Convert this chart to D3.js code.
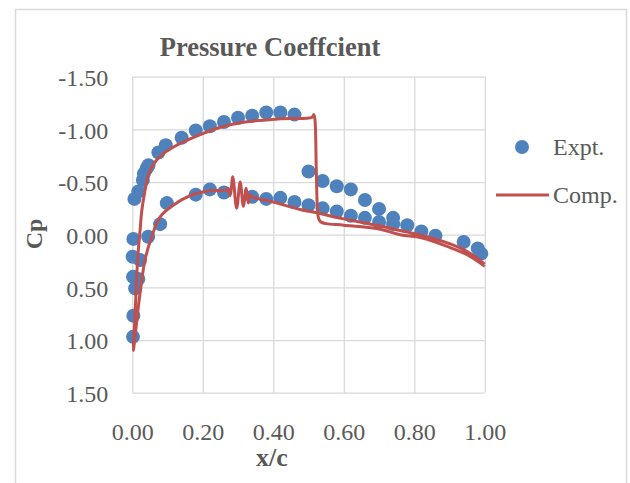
<!DOCTYPE html>
<html>
<head>
<meta charset="utf-8">
<script src="https://cdn.jsdelivr.net/npm/d3@7"></script>
<style>
  body { margin: 0; background: #fff; }
</style>
</head>
<body>
<div id="viz"></div>
<script>
var width = 630;
var height = 483;

// tick values
var xTicks = [0, 0.2, 0.4, 0.6, 0.8, 1.0];
var yTicks = [-1.5, -1.0, -0.5, 0, 0.5, 1.0, 1.5];

// experimental points (x/c, Cp)
var exptX = [0.002, 0.003, 0.008, 0.017, 0.002, 0.022, 0.001, 0.003, 0.045, 0.079, 0.098,
  0.18, 0.22, 0.26, 0.34, 0.38, 0.42, 0.46, 0.50, 0.54, 0.58, 0.62, 0.66, 0.70, 0.74,
  0.006, 0.017, 0.030, 0.033, 0.041, 0.046, 0.074, 0.095, 0.14, 0.18, 0.22, 0.26, 0.30,
  0.34, 0.38, 0.42, 0.46, 0.50, 0.54, 0.58, 0.62, 0.66, 0.70, 0.74, 0.78, 0.82, 0.86,
  0.94, 0.98, 0.99];
var exptCp = [0.97, 0.77, 0.51, 0.42, 0.40, 0.24, 0.21, 0.04, 0.02, -0.10, -0.30,
  -0.38, -0.43, -0.40, -0.36, -0.34, -0.35, -0.31, -0.28, -0.25, -0.22, -0.18, -0.16, -0.12, -0.10,
  -0.34, -0.41, -0.52, -0.58, -0.63, -0.66, -0.78, -0.85, -0.92, -0.99, -1.03, -1.07, -1.11,
  -1.13, -1.16, -1.16, -1.14, -0.60, -0.51, -0.46, -0.43, -0.33, -0.245, -0.16, -0.09, -0.03, 0.01,
  0.07, 0.13, 0.18];

// computed, upper surface from leading edge to trailing edge
var compUpperX = [0.003, 0.008, 0.012, 0.017, 0.022, 0.027, 0.036, 0.045, 0.06, 0.088, 0.126,
  0.164, 0.20, 0.25, 0.32, 0.42, 0.51, 0.515, 0.518, 0.522, 0.526, 0.529, 0.535, 0.55, 0.60,
  0.70, 0.76, 0.82, 0.90, 0.95, 1.00];
var compUpperCp = [1.10, 0.75, 0.43, 0.15, -0.04, -0.23, -0.42, -0.56, -0.67, -0.77, -0.85,
  -0.91, -0.96, -1.02, -1.07, -1.10, -1.115, -1.14, -1.10, -0.60, -0.20, -0.15, -0.12, -0.105, -0.09,
  -0.055, 0.0, 0.03, 0.12, 0.19, 0.30];

// computed, lower surface from leading edge to trailing edge
var compLowerX = [0.003, 0.01, 0.017, 0.027, 0.036, 0.055, 0.079, 0.116, 0.164, 0.193, 0.23,
  0.265, 0.272, 0.278, 0.285, 0.296, 0.306, 0.315, 0.323, 0.329, 0.334, 0.339, 0.40,
  0.476, 0.52, 0.60, 0.70, 0.76, 0.82, 0.90, 0.95, 1.00];
var compLowerCp = [1.10, 0.90, 0.69, 0.43, 0.24, 0.02, -0.17, -0.28, -0.37, -0.40, -0.42,
  -0.42, -0.44, -0.37, -0.55, -0.25, -0.50, -0.27, -0.44, -0.30, -0.38, -0.36, -0.31,
  -0.24, -0.21, -0.15, -0.085, -0.04, 0.005, 0.085, 0.16, 0.28];

var exptColor = "#4f81bd";
var compColor = "#c0504d";
var gridColor = "#d9d9d9";
var textColor = "#595959";

var viz = d3.select("#viz")
  .append("svg")
  .attr("width", width)
  .attr("height", height)
  .style("font-family", "'Liberation Serif', 'Times New Roman', serif");

// chart border
viz.append("rect")
  .attr("x", 15.5)
  .attr("y", 9.5)
  .attr("width", 611)
  .attr("height", 500)
  .attr("fill", "none")
  .attr("stroke", gridColor)
  .attr("stroke-width", 1.5);

var x = d3.scaleLinear()
  .domain([0, 1])
  .range([132.3, 484.8]);

var y = d3.scaleLinear()
  .domain([-1.5, 1.5])
  .range([76.7, 392.7]);

var fmt = function(d) { return d.toFixed(2); };

//y axis with gridlines
var yAxis = viz.append("g")
  .attr("transform", "translate(" + x(0) + ",0)")
  .call(d3.axisLeft(y)
    .tickValues(yTicks)
    .tickSize(-(x(1) - x(0)))
    .tickPadding(24)
    .tickFormat(fmt));
yAxis.select(".domain").remove();
yAxis.selectAll("line").attr("stroke", gridColor).attr("stroke-width", 1.3);
yAxis.selectAll("text")
  .attr("dy", "0.37em")
  .style("fill", textColor)
  .style("font-size", "24px")
  .style("font-family", "'Liberation Serif', serif");

//x axis with gridlines
var xAxis = viz.append("g")
  .attr("transform", "translate(0," + y(1.5) + ")")
  .call(d3.axisBottom(x)
    .tickValues(xTicks)
    .tickSize(-(y(1.5) - y(-1.5)))
    .tickPadding(30)
    .tickFormat(fmt));
xAxis.select(".domain").remove();
xAxis.selectAll("line").attr("stroke", gridColor).attr("stroke-width", 1.3);
xAxis.selectAll("text")
  .style("fill", textColor)
  .style("font-size", "24px")
  .style("font-family", "'Liberation Serif', serif");

// expt points
var expt = exptX.map(function(d, i) { return [d, exptCp[i]]; });
viz.append("g")
  .selectAll("circle")
  .data(expt)
  .enter()
  .append("circle")
  .attr("cx", function(d) { return x(d[0]); })
  .attr("cy", function(d) { return y(d[1]); })
  .attr("r", 7)
  .attr("fill", exptColor);

// comp line: trailing edge -> upper -> leading edge -> lower -> trailing edge
var upper = compUpperX.map(function(d, i) { return [d, compUpperCp[i]]; }).reverse();
var lower = compLowerX.map(function(d, i) { return [d, compLowerCp[i]]; }).slice(1);
var comp = upper.concat(lower);

var line = d3.line()
  .x(function(d) { return x(d[0]); })
  .y(function(d) { return y(d[1]); })
  .curve(d3.curveCatmullRom.alpha(0.5));

viz.append("path")
  .datum(comp)
  .attr("d", line)
  .attr("fill", "none")
  .attr("stroke", compColor)
  .attr("stroke-width", 3)
  .attr("stroke-linejoin", "round");

// title
viz.append("text")
  .attr("x", 270)
  .attr("y", 56)
  .attr("text-anchor", "middle")
  .style("fill", textColor)
  .style("font-size", "26.5px")
  .style("font-weight", "bold")
  .text("Pressure Coeffcient");

viz.append("text")
  .attr("x", 272)
  .attr("y", 466)
  .attr("text-anchor", "middle")
  .style("fill", textColor)
  .style("font-size", "26px")
  .style("font-weight", "bold")
  .text("x/c");

viz.append("text")
  .attr("transform", "translate(42,234) rotate(-90)")
  .attr("text-anchor", "middle")
  .style("fill", textColor)
  .style("font-size", "24px")
  .style("font-weight", "bold")
  .text("Cp");

// legend
var legend = viz.append("g").attr("id", "legend");

legend.append("circle")
  .attr("cx", 522)
  .attr("cy", 147)
  .attr("r", 7)
  .attr("fill", exptColor);

legend.append("text")
  .attr("x", 553)
  .attr("y", 155)
  .style("fill", textColor)
  .style("font-size", "24px")
  .text("Expt.");

legend.append("line")
  .attr("x1", 496)
  .attr("x2", 549)
  .attr("y1", 195)
  .attr("y2", 195)
  .attr("stroke", compColor)
  .attr("stroke-width", 3);

legend.append("text")
  .attr("x", 553)
  .attr("y", 203)
  .style("fill", textColor)
  .style("font-size", "24px")
  .text("Comp.");
</script>
</body>
</html>
